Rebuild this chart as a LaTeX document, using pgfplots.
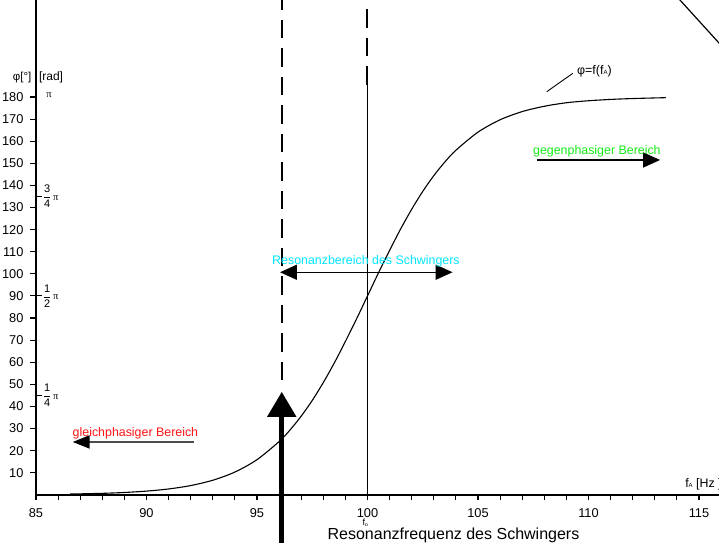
\documentclass[border=0pt]{standalone}
\usepackage{fontspec}
\setmainfont{Liberation Sans}
\newfontfamily\seriffont{Liberation Serif}
\usepackage{pgfplots}
\pgfplotsset{compat=1.18}
\usetikzlibrary{arrows.meta}
\definecolor{cyanT}{RGB}{0,230,255}
\definecolor{greenT}{RGB}{20,235,20}
\definecolor{redT}{RGB}{255,20,20}
\newcommand{\fr}[2]{$\displaystyle\frac{\mbox{#1}}{\mbox{#2}}$\,{\seriffont\fontsize{10.5bp}{11bp}\selectfont π}}
\begin{document}
\begin{tikzpicture}
\useasboundingbox (0,0) rectangle (719bp,543bp);
\begin{axis}[
  at={(36bp,48.2bp)}, anchor=south west,
  scale only axis, width=729.3bp, height=497.25bp,
  xmin=85, xmax=118, ymin=0, ymax=225,
  axis x line=bottom, axis y line=left,
  axis line style={-, line width=1.4bp},
  xtick={85,90,...,115}, minor xtick={86,...,117},
  ytick={10,20,...,180},
  tick align=outside, major tick length=5.5bp, minor tick length=5.5bp,
  every tick/.style={black, line width=1.1bp},
  clip=false,
  /pgf/number format/assume math mode=true,
  ticklabel style={font=\fontsize{12.8bp}{14bp}\selectfont},
  xticklabel style={yshift=-4.5bp},
  yticklabel style={xshift=-3.5bp},
  extra y ticks={45,90,135}, extra y tick labels={},
  extra y tick style={tick align=inside},
]
\addplot[black, line width=1.1bp, smooth] coordinates {
(86.55,0.34) (88,0.66) (89,1.05) (90,1.67) (91,2.64) (92,4.18) (93,6.59) (94,10.3) (95,15.9)
(96,24.1) (96.5,29.4) (97,35.6) (97.5,42.7) (98,50.8) (98.5,59.7) (99,69.4) (99.5,79.5) (100,90)
(100.5,100.5) (101,110.6) (101.5,120.3) (102,129.2) (102.5,137.3) (103,144.4) (103.5,150.6)
(104,155.9) (105,164.1) (106,169.7) (107,173.4) (108,175.8) (109,177.4) (110,178.3)
(111,178.9) (112,179.3) (113.5,179.7)};

% vertical lines
\draw[line width=2bp, dash pattern=on 18.5bp off 10bp] (axis cs:96.12,227.75) -- (axis cs:96.12,50.6);
\draw[line width=1.4bp, dash pattern=on 18.5bp off 10bp] (axis cs:99.98,232.5) -- (axis cs:99.98,185.4);
\draw[line width=1bp] (axis cs:99.98,185.4) -- (axis cs:99.98,0);
\draw[line width=5bp, -{Triangle[length=25bp,width=28bp]}] (axis cs:96.12,-25) -- (axis cs:96.12,46.6);
\draw[line width=1.2bp] (axis cs:113.91,226.4) -- (axis cs:116.18,201.4);

% arrows
\draw[line width=2bp, draw=black!70, -{Triangle[length=17bp,width=13bp,color=black]}] (axis cs:92.15,23.9) -- (axis cs:86.66,23.9);
\draw[line width=1.5bp, {Triangle[length=17bp,width=15bp]}-{Triangle[length=17bp,width=15bp]}] (axis cs:96.04,100.7) -- (axis cs:103.85,100.7);
\draw[line width=1.5bp, -{Triangle[length=17bp,width=15bp]}] (axis cs:107.67,151.5) -- (axis cs:113.24,151.5);
\draw[line width=0.9bp] (axis cs:108.11,182.4) -- (axis cs:109.29,190.7);

% texts
\node[text=redT, anchor=base, font=\fontsize{12.4bp}{14bp}\selectfont, inner sep=0pt] at (axis cs:89.5,26.2) {gleichphasiger Bereich};
\node[text=cyanT, anchor=base, font=\fontsize{12.4bp}{14bp}\selectfont, inner sep=0pt] at (axis cs:99.93,104.0) {Resonanzbereich des Schwingers};
\node[text=greenT, anchor=base, font=\fontsize{12.4bp}{14bp}\selectfont, inner sep=0pt] at (axis cs:110.38,154.2) {gegenphasiger Bereich};
\node[anchor=base west, font=\fontsize{12.4bp}{14bp}\selectfont, inner sep=0pt] at (axis cs:109.48,190.0) {φ=f(f{\fontsize{6bp}{6bp}\selectfont A})};
\node[anchor=base west, font=\fontsize{12.4bp}{14bp}\selectfont, inner sep=0pt] at (axis cs:114.37,3.2) {f{\fontsize{6bp}{6bp}\selectfont A} [Hz ]};
\node[anchor=center, font=\fontsize{9bp}{10bp}\selectfont, inner sep=0pt] at (axis cs:99.9,-12.6) {f\raisebox{-1bp}{\fontsize{5bp}{5bp}\selectfont o}};
\node[anchor=base, font=\fontsize{16bp}{18bp}\selectfont, inner sep=0pt] at (axis cs:103.89,-20.1) {Resonanzfrequenz des Schwingers};
\node[anchor=center, font=\fontsize{11.5bp}{13bp}\selectfont, inner sep=0pt] at (axis cs:84.37,189.0) {φ[°]};
\node[anchor=center, font=\fontsize{12bp}{13bp}\selectfont, inner sep=0pt] at (axis cs:85.68,189.0) {[rad]};
\node[anchor=center, font=\seriffont\fontsize{10.5bp}{11bp}\selectfont, inner sep=0pt] at (axis cs:85.59,180.9) {π};
\node[anchor=west, font=\fontsize{11bp}{12bp}\selectfont, inner sep=0pt] at (axis cs:85.3,135) {\fr{3}{4}};
\node[anchor=west, font=\fontsize{11bp}{12bp}\selectfont, inner sep=0pt] at (axis cs:85.3,90) {\fr{1}{2}};
\node[anchor=west, font=\fontsize{11bp}{12bp}\selectfont, inner sep=0pt] at (axis cs:85.3,45) {\fr{1}{4}};
\end{axis}
\end{tikzpicture}
\end{document}
